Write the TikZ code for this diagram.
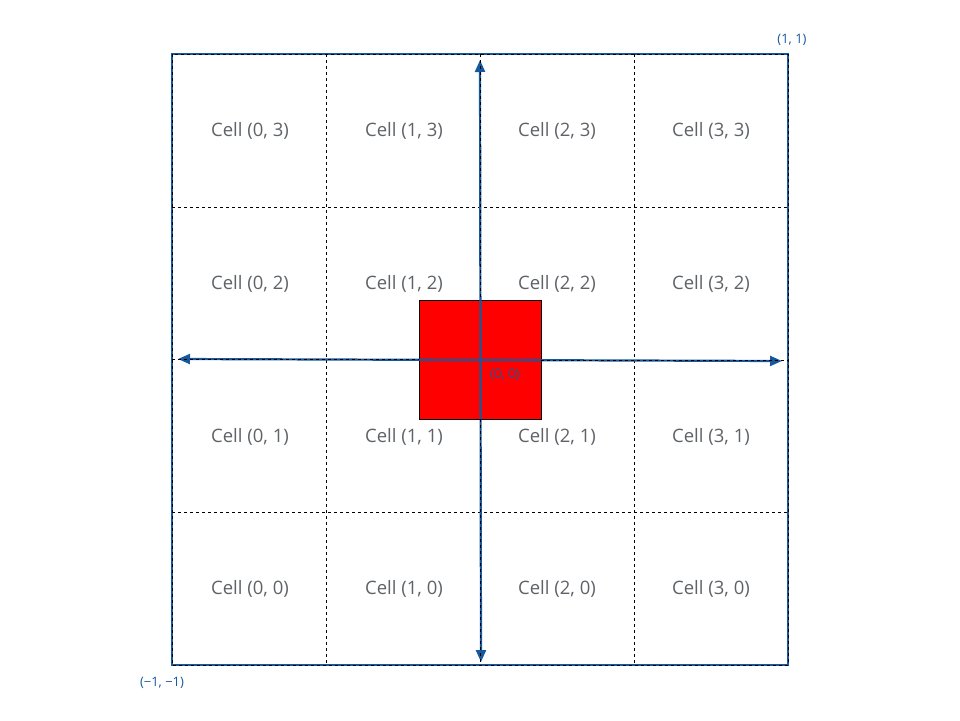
\documentclass[tikz,border=0pt]{standalone}
\usepackage{fontspec}
\setmainfont{Open Sans}
\usetikzlibrary{arrows.meta}
\definecolor{axisblue}{RGB}{22,88,158}
\definecolor{cellgray}{RGB}{95,99,104}
\tikzset{
  gridline/.style={black, line width=0.8pt, dash pattern=on 3pt off 3pt},
  borderblue/.style={axisblue, line width=2pt},
  axisline/.style={axisblue, line width=2.2pt, {Triangle[width=10pt,length=12pt]}-{Triangle[width=10pt,length=12pt]}},
  celllabel/.style={text=cellgray, font=\fontsize{18.5}{21}\selectfont, inner sep=0pt},
  coordlabel/.style={text=axisblue, font=\fontsize{13}{15}\selectfont, inner sep=0pt},
  redsq/.style={fill=red, draw=black, line width=0.8pt}
}
\begin{document}
\begin{tikzpicture}[x=1pt,y=-1pt]
\useasboundingbox (0,0) rectangle (960,720);
% outer border (blue under black dash)
\draw[borderblue] (172,54) rectangle (788,665);
\draw[gridline] (172,54) rectangle (788,665);
% inner grid lines (not center ones)
\foreach \x in {326,634} \draw[gridline] (\x,54) -- (\x,665);
\foreach \y in {207,512} \draw[gridline] (172,\y) -- (788,\y);
% red square
\node[redsq, minimum width=122pt, minimum height=119pt, inner sep=0pt, anchor=north west] (sq) at (419,300) {};
% axes
\coordinate (left) at (178,359);
\coordinate (right) at (782,361);
\coordinate (top) at (480,60);
\coordinate (bottom) at (481,662);
\draw[axisline] (right) -- (left);
\draw[axisline] (bottom) -- (top);
% center dashed lines outside the red square
\draw[gridline] (172,359) -- (419,359);
\draw[gridline] (541,360) -- (788,360);
\draw[gridline] (480,54) -- (480,300);
\draw[gridline] (480,419) -- (480,665);
% labels
\node[coordlabel] (c11) at (792,40) {(1, 1)};
\node[coordlabel] (cm11) at (162,683) {(−1, −1)};
\node[coordlabel] (c00) at (505,375) {(0, 0)};
% cells
\foreach \i/\x in {0/250,1/404,2/557,3/711}{
  \foreach \j/\y in {3/131,2/284,1/437,0/589}{
    \node[celllabel] (cell\i\j) at (\x,\y) {Cell (\i, \j)};
  }
}
\end{tikzpicture}
\end{document}
